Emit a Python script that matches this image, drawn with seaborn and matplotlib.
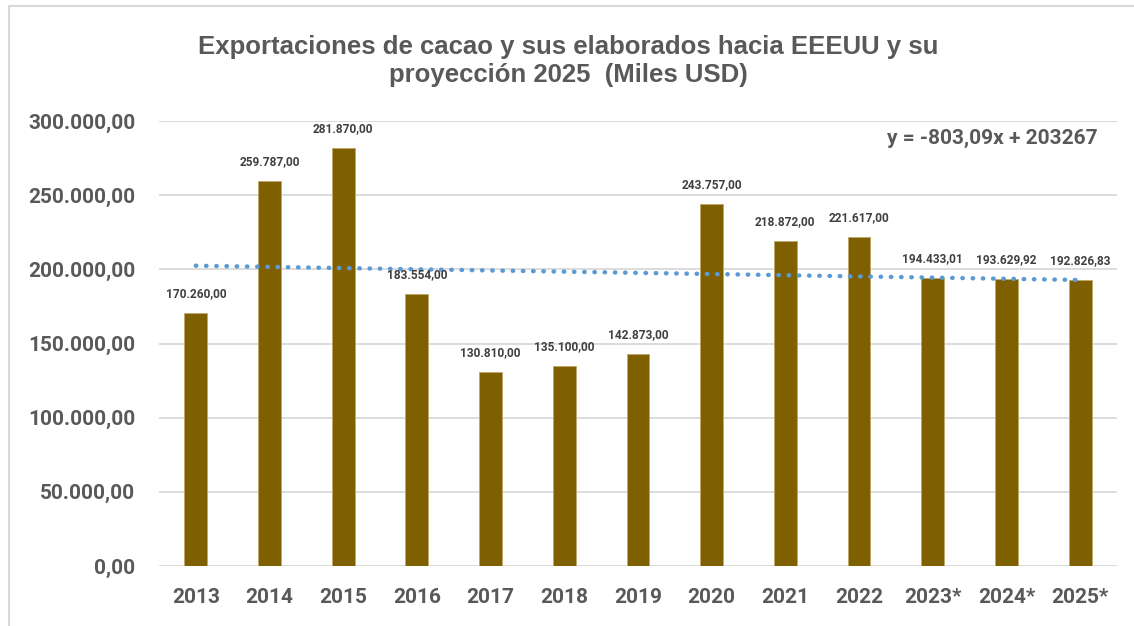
import numpy as np
import pandas as pd
import seaborn as sns
import matplotlib.pyplot as plt
from matplotlib.lines import Line2D

years = ['2013', '2014', '2015', '2016', '2017', '2018', '2019',
         '2020', '2021', '2022', '2023*', '2024*', '2025*']
exports = [170260.00, 259787.00, 281870.00, 183554.00, 130810.00, 135100.00,
           142873.00, 243757.00, 218872.00, 221617.00, 194433.01, 193629.92,
           192826.83]
trend_slope = -803.09
trend_intercept = 203267

title = "Exportaciones de cacao y sus elaborados hacia EEEUU y su\nproyección 2025  (Miles USD)"


def es_fmt(v):
    # 1234.5 -> 1.234,50
    s = f"{v:,.2f}"
    return s.replace(",", "X").replace(".", ",").replace("X", ".")


df = pd.DataFrame({'year': years, 'value': exports})

sns.set_style("white")
plt.rcParams['font.family'] = ['Roboto', 'DejaVu Sans']

fig = plt.figure(figsize=(11.34, 6.26), dpi=100)
ax = fig.add_axes([0.1402, 0.0958, 0.8448, 0.7109])

sns.barplot(data=df, x='year', y='value', color='#7F6000', width=0.31,
            saturation=1, edgecolor='#BFA76A', linewidth=0.6, ax=ax, zorder=3)

# linear trend line (Excel numbering x = 1..n)
xs = np.arange(len(years))
ax.plot(xs, trend_slope * (xs + 1) + trend_intercept, linestyle=(0, (0.1, 2.2)),
        dash_capstyle='round', color='#5B9BD5', linewidth=3.2, zorder=4)

for i, v in enumerate(exports):
    ax.annotate(es_fmt(v), (i, v), xytext=(0, 14), textcoords='offset points',
                ha='center', va='center', fontsize=8.6, fontweight='bold',
                color='#404040', zorder=5)

ax.set_xlim(-0.5, len(years) - 0.5)
ax.set_ylim(0, 300000)
ax.set_yticks(np.arange(0, 300001, 50000))
ax.set_yticklabels([es_fmt(t) for t in np.arange(0, 300001, 50000)])
ax.yaxis.grid(True, color='#D9D9D9', linewidth=1.3, zorder=0)
ax.set_axisbelow(True)
for sp in ax.spines.values():
    sp.set_visible(False)
ax.tick_params(axis='both', length=0, labelsize=15, labelcolor='#595959')
ax.tick_params(axis='y', pad=17)
ax.tick_params(axis='x', pad=16)
for lab in ax.get_xticklabels() + ax.get_yticklabels():
    lab.set_fontweight('bold')
ax.set_xlabel('')
ax.set_ylabel('')

ax.text(0.98, 0.96, "y = -803,09x + 203267", transform=ax.transAxes,
        ha='right', va='center', fontsize=15, fontweight='bold', color='#595959')

fig.text(0.501, 0.903, title, ha='center', va='center', fontsize=18.5,
         fontweight='bold', color='#595959', family='Liberation Sans',
         linespacing=1.22)

# chart area border (top and left visible)
fig.add_artist(Line2D([9 / 1134, 1.0], [1 - 6 / 626, 1 - 6 / 626],
                      transform=fig.transFigure, color='#D9D9D9', linewidth=1.5))
fig.add_artist(Line2D([9 / 1134, 9 / 1134], [0.0, 1 - 6 / 626],
                      transform=fig.transFigure, color='#D9D9D9', linewidth=1.5))

fig.savefig('out.png', dpi=100)
